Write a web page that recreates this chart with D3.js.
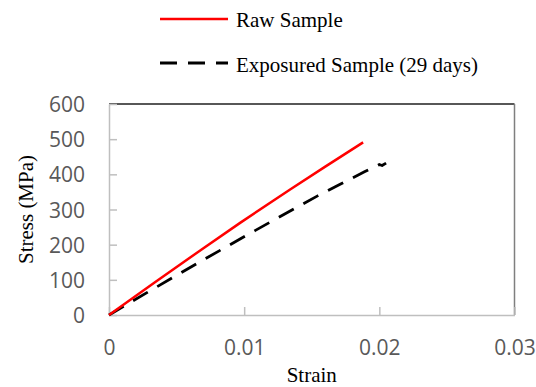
<!DOCTYPE html>
<html>
<head>
<meta charset="utf-8">
<script src="https://cdn.jsdelivr.net/npm/d3@7"></script>
<style>
  body { margin: 0; background: #fff; }
  svg { display: block; }
</style>
</head>
<body>
<svg id="chart" width="536" height="387"></svg>
<script>
// values
var rawStrain = [0, 0.0034, 0.0068, 0.0097, 0.0134, 0.0160, 0.0188];
var rawStress = [0, 93, 185, 262, 357, 422, 491];

var expStrain = [0, 0.0034, 0.0068, 0.0108, 0.0135, 0.0154, 0.0171, 0.0189, 0.0200, 0.0202, 0.0205];
var expStress = [0, 77, 153, 240, 298, 338, 372, 407, 428, 425, 432];

var xTicks = [0, 0.01, 0.02, 0.03];
var xTickLabels = ["0", "0.01", "0.02", "0.03"];
var yTicks = [0, 100, 200, 300, 400, 500, 600];
var yTickLabels = ["0", "100", "200", "300", "400", "500", "600"];

var seriesNames = ["Raw Sample", "Exposured Sample (29 days)"];

var svg = d3.select("#chart");
var margin = {top: 104, right: 21.5, bottom: 72, left: 109};
var width = 536 - margin.left - margin.right,
    height = 387 - margin.top - margin.bottom;

var x = d3.scaleLinear().domain([0, 0.03]).range([margin.left, margin.left + width]);
var y = d3.scaleLinear().domain([0, 600]).range([margin.top + height, margin.top]);

var tickFont = "'Open Sans', 'Liberation Sans', sans-serif";
var serif = "'Liberation Serif', 'DejaVu Serif', serif";

// frame: dark top, grey right
svg.append("line")
    .attr("x1", x(0)).attr("x2", x(0.03))
    .attr("y1", y(600)).attr("y2", y(600))
    .attr("stroke", "#1f1f1f").attr("stroke-width", 1.3);
svg.append("line")
    .attr("x1", x(0.03)).attr("x2", x(0.03))
    .attr("y1", y(600)).attr("y2", y(0))
    .attr("stroke", "#7f7f7f").attr("stroke-width", 1.5);

var yAxis = svg.append("g")
    .attr("transform", "translate(" + x(0) + ",0)")
    .call(d3.axisLeft(y).tickValues(yTicks)
        .tickFormat(function(d, i) { return yTickLabels[i]; })
        .tickSizeInner(-8).tickSizeOuter(0).tickPadding(24));

var xAxis = svg.append("g")
    .attr("transform", "translate(0," + y(0) + ")")
    .call(d3.axisBottom(x).tickValues(xTicks)
        .tickFormat(function(d, i) { return xTickLabels[i]; })
        .tickSizeInner(-8).tickSizeOuter(0));

[yAxis, xAxis].forEach(function(ax) {
    ax.select(".domain").attr("stroke", "#bfbfbf").attr("stroke-width", 1.5);
    ax.selectAll(".tick line").attr("stroke", "#bfbfbf").attr("stroke-width", 1.5);
    ax.selectAll(".tick text")
        .attr("fill", "#595959")
        .style("font-family", tickFont)
        .style("font-size", "21px");
});
yAxis.selectAll(".tick text").attr("dy", "0.36em");
xAxis.selectAll(".tick text").attr("y", 40).attr("dy", 0);

// curves
var line = d3.line()
    .x(function(d) { return x(d[0]); })
    .y(function(d) { return y(d[1]); });

var rawData = d3.zip(rawStrain, rawStress);
var expData = d3.zip(expStrain, expStress);

svg.append("path")
    .datum(expData)
    .attr("fill", "none")
    .attr("stroke", "#000")
    .attr("stroke-width", 2.8)
    .attr("stroke-dasharray", "17,11")
    .attr("stroke-linejoin", "round")
    .attr("d", line);

svg.append("path")
    .datum(rawData)
    .attr("fill", "none")
    .attr("stroke", "#ff0000")
    .attr("stroke-width", 2.5)
    .attr("stroke-linejoin", "round")
    .attr("d", line);

// axis titles
svg.append("text")
    .attr("x", x(0.015)).attr("y", 382)
    .attr("text-anchor", "middle")
    .style("font-family", serif).style("font-size", "21px")
    .text("Strain");

svg.append("text")
    .attr("transform", "translate(33," + y(300) + ") rotate(-90)")
    .attr("text-anchor", "middle")
    .style("font-family", serif).style("font-size", "21px")
    .text("Stress (MPa)");

// legend
var legend = svg.append("g");
var legendRows = [
    {name: seriesNames[0], color: "#ff0000", dash: null, width: 2.5, ly: 19, ty: 26.5},
    {name: seriesNames[1], color: "#000", dash: "17,11", width: 2.8, ly: 63, ty: 71.5}
];
legendRows.forEach(function(r) {
    legend.append("line")
        .attr("x1", 160).attr("x2", 228)
        .attr("y1", r.ly).attr("y2", r.ly)
        .attr("stroke", r.color)
        .attr("stroke-width", r.width)
        .attr("stroke-dasharray", r.dash);
    legend.append("text")
        .attr("x", 236).attr("y", r.ty)
        .style("font-family", serif).style("font-size", "21px")
        .text(r.name);
});
</script>
</body>
</html>
